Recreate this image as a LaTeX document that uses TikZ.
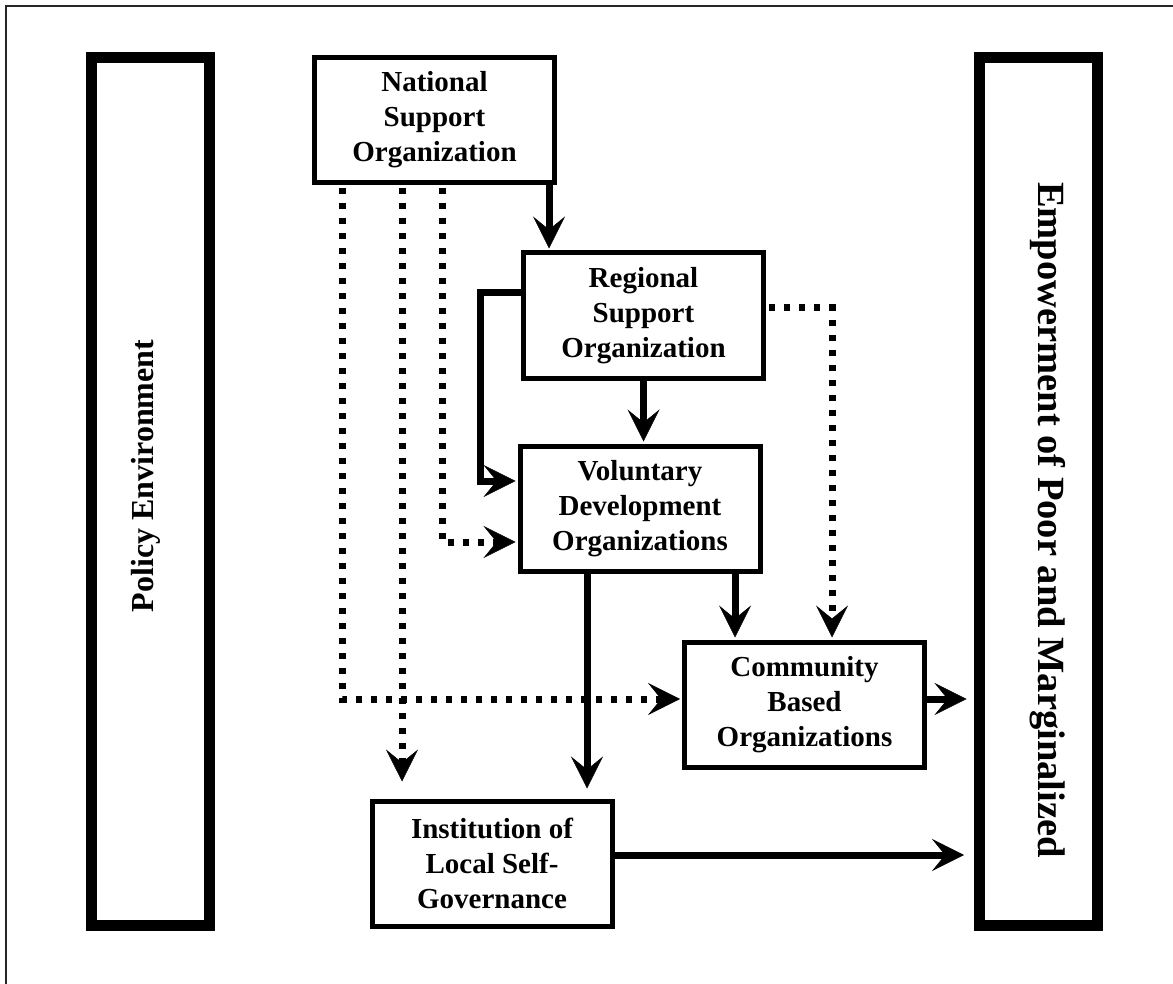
\documentclass[tikz,border=0pt]{standalone}
\usepackage{fontspec}
\setmainfont{Liberation Serif}
\usetikzlibrary{arrows.meta}
\begin{document}
\begin{tikzpicture}[x=1pt,y=-1pt,
  box/.style={draw, line width=5pt, minimum width=240pt, minimum height=125pt, inner sep=0pt, align=center, font=\fontsize{29}{35}\selectfont\bfseries},
  bar/.style={draw, line width=11pt, minimum width=118pt, minimum height=868pt, inner sep=0pt},
  tip/.style={-{Stealth[length=32pt,width=32pt,inset=13pt,line width=0.5pt]}},
  sarrow/.style={line width=7pt, tip},
  darrow/.style={line width=7pt, dash pattern=on 6pt off 9pt, tip}]
\useasboundingbox (0,0) rectangle (1173,984);
\fill[white] (0,0) rectangle (1173,984);
\draw[line width=2pt, black!85] (5.7,984) -- (5.7,5.7) -- (1173,5.7);

\node[bar] (L) at (150.5,491.5) {};
\node[bar] (R) at (1038.5,491.5) {};
\node[rotate=90, anchor=base, inner sep=0pt, font=\fontsize{32}{38}\selectfont\bfseries] (Lt) at (153,476) {Policy Environment};
\node[rotate=-90, anchor=base, inner sep=0pt, font=\fontsize{38.5}{44}\selectfont\bfseries] (Rt) at (1038,520) {Empowerment of Poor and Marginalized};

\node[box] (NSO) at (434.5,120) {National\\Support\\Organization};
\node[box] (RSO) at (643.5,315.5) {Regional\\Support\\Organization};
\node[box] (VDO) at (640,508.5) {Voluntary\\Development\\Organizations};
\node[box] (CBO) at (804.5,704.5) {Community\\Based\\Organizations};
\node[box] (ILSG) at (492,863.5) {Institution of\\Local Self-\\Governance};

% dotted connectors
\draw[darrow, shorten <=3pt, shorten >=2pt] ([xshift=-92.5pt]NSO.south) -- (342,699) -- ([yshift=5.5pt]CBO.west);
\draw[darrow, shorten <=3pt, shorten >=17pt] ([xshift=-32.5pt]NSO.south) -- ([xshift=-32.5pt]NSO.south |- ILSG.north);
\draw[darrow, shorten <=3pt, shorten >=2pt] ([xshift=7.5pt]NSO.south) -- (442,542) -- ([yshift=-33.5pt]VDO.west);
\draw[darrow, shorten <=3pt, shorten >=2pt] ([yshift=7.5pt]RSO.east) -| ([xshift=27.5pt]CBO.north);

% solid connectors
\draw[sarrow, shorten >=2pt] ([xshift=114.5pt]NSO.south) -- ([xshift=114.5pt]NSO.south |- RSO.north);
\draw[sarrow, shorten >=2pt] ([yshift=22.5pt]RSO.west) -- (480,293) -- (480,481) -- ([yshift=27.5pt]VDO.west);
\draw[sarrow, shorten >=2pt] (RSO.south) -- (RSO.south |- VDO.north);
\draw[sarrow, shorten >=2pt] ([xshift=95pt]VDO.south) -- ([xshift=95pt]VDO.south |- CBO.north);
\draw[sarrow, shorten >=10pt] ([xshift=-53pt]VDO.south) -- ([xshift=-53pt]VDO.south |- ILSG.north);
\draw[sarrow, shorten >=7.5pt] ([yshift=5.5pt]CBO.east) -- ([yshift=5.5pt]CBO.east -| R.west);
\draw[sarrow, shorten >=10pt] ([yshift=8.5pt]ILSG.east) -- ([yshift=8.5pt]ILSG.east -| R.west);
\end{tikzpicture}
\end{document}
